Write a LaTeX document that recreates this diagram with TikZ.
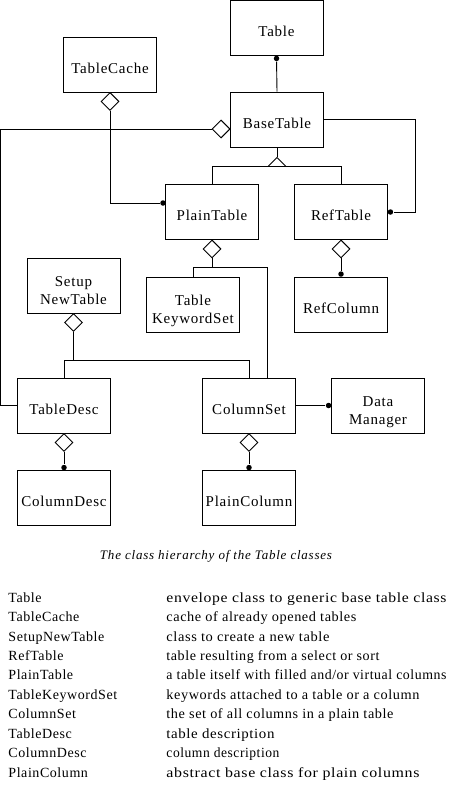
\documentclass[tikz,border=0pt]{standalone}
\usepackage{fontspec}
\usepackage{graphicx}
\setmainfont{Liberation Serif}
\newfontfamily\boxfont{Liberation Serif}[LetterSpace=5]
\newfontfamily\legfont{Liberation Serif}[LetterSpace=4]
\newfontfamily\captfont{Liberation Serif}[LetterSpace=6]
\newcommand{\descw}[2]{\resizebox{#1pt}{\height}{#2}}
\usetikzlibrary{shapes.geometric,calc}
\begin{document}
\begin{tikzpicture}[x=1pt,y=-1pt,line width=0.9pt,
  cls/.style={draw,rectangle,minimum width=93pt,minimum height=55pt,inner sep=0pt,
    font=\boxfont\fontsize{15}{18}\selectfont,text height=17.6pt,text depth=0pt},
  clstwo/.style={cls,align=center,text height=38pt,text depth=0pt},
  agg/.style={draw,diamond,fill=white,minimum width=18pt,minimum height=18pt,inner sep=0pt},
  blob/.style={circle,fill=black,minimum size=5.5pt,inner sep=0pt},
  leg/.style={anchor=base west,inner sep=0pt,font=\legfont\fontsize{14}{16}\selectfont},
  capt/.style={anchor=base,inner sep=0pt,font=\captfont\itshape\fontsize{13}{15}\selectfont}]
\useasboundingbox (0,0) rectangle (449,789);

% classes
\node[cls] (table) at (276.5,28) {Table};
\node[cls] (cache) at (110,64.5) {TableCache};
\node[cls] (base) at (277,119.5) {BaseTable};
\node[cls] (plain) at (212,212) {PlainTable};
\node[cls] (ref) at (341,212) {RefTable};
\node[clstwo] (kw) at (193,304.5) {Table\\KeywordSet};
\node[cls] (refcol) at (341,304.5) {RefColumn};
\node[clstwo] (setup) at (73.5,285.5) {Setup\\NewTable};
\node[cls] (tdesc) at (64,405.5) {TableDesc};
\node[cls] (colset) at (249,405.5) {ColumnSet};
\node[clstwo] (dm) at (378,405.5) {Data\\Manager};
\node[cls] (cdesc) at (64,498) {ColumnDesc};
\node[cls] (pcol) at (249,498) {PlainColumn};

% Table -- BaseTable
\node[blob] (d1) at ($(table.south)+(0,2.5)$) {};
\draw (d1) -- (base.north);

% TableCache -- PlainTable
\node[agg] (a1) at ($(cache.south)+(0,9)$) {};
\node[blob] (d2) at (163,203) {};
\draw (a1.south) |- (d2);

% BaseTable -- TableDesc
\node[agg] (a2) at ($(base.west)+(-9,9.5)$) {};
\coordinate (lft) at (0.5,0);
\draw (a2.west) -- (a2.west -| lft) |- (tdesc.west);

% BaseTable -- RefTable
\node[blob] (d4) at ($(ref.east)+(2.5,0)$) {};
\coordinate (rgt) at (415,0);
\draw (base.east) -- (base.east -| rgt) |- (d4);

% inheritance
\coordinate (apex) at ($(base.south)+(0,10)$);
\coordinate (ib) at ($(apex)+(0,9)$);
\draw (base.south) -- (apex);
\draw[fill=white] (apex) -- ++(-9,9) -- ++(18,0) -- cycle;
\draw (plain.north) -- (plain.north |- ib) -- (ref.north |- ib) -- (ref.north);

% PlainTable -- TableKeywordSet, ColumnSet
\node[agg] (a3) at ($(plain.south)+(0,9)$) {};
\coordinate (c6) at (267,267);
\draw (a3.south) -- (a3.south |- c6);
\draw (kw.north) |- (c6) -- (c6 |- colset.north);

% RefTable -- RefColumn
\node[agg] (a4) at ($(ref.south)+(0,9)$) {};
\node[blob] (d7) at ($(refcol.north)+(0,-2.5)$) {};
\draw (a4.south) -- (d7);

% SetupNewTable -- TableDesc, ColumnSet
\node[agg] (a5) at ($(setup.south)+(0,9)$) {};
\coordinate (j8) at (0,360);
\draw (a5.south) -- (a5.south |- j8);
\draw (tdesc.north) |- (colset.north |- j8) -- (colset.north);

% ColumnSet -- DataManager
\node[blob] (d9) at ($(dm.west)+(-2.5,0)$) {};
\draw (colset.east) -- (d9);

% TableDesc -- ColumnDesc
\node[agg] (a6) at ($(tdesc.south)+(0,9)$) {};
\node[blob] (d10) at ($(cdesc.north)+(0,-2.5)$) {};
\draw (a6.south) -- (d10);

% ColumnSet -- PlainColumn
\node[agg] (a7) at ($(colset.south)+(0,9)$) {};
\node[blob] (d11) at ($(pcol.north)+(0,-2.5)$) {};
\draw (a7.south) -- (d11);

% caption
\node[capt] (cap) at (216,559) {The class hierarchy of the Table classes};

% legend
\node[leg] (n1) at (8,602) {Table};
\node[leg] (t1) at (166,602) {\descw{280}{envelope class to generic base table class}};
\node[leg] (n2) at (8,621.5) {TableCache};
\node[leg] (t2) at (166,621.5) {\descw{190}{cache of already opened tables}};
\node[leg] (n3) at (8,641) {SetupNewTable};
\node[leg] (t3) at (166,641) {\descw{163}{class to create a new table}};
\node[leg] (n4) at (8,660.3) {RefTable};
\node[leg] (t4) at (166,660.3) {\descw{213}{table resulting from a select or sort}};
\node[leg] (n5) at (8,679.8) {PlainTable};
\node[leg] (t5) at (166,679.8) {\descw{280}{a table itself with filled and/or virtual columns}};
\node[leg] (n6) at (8,699.2) {TableKeywordSet};
\node[leg] (t6) at (166,699.2) {\descw{253}{keywords attached to a table or a column}};
\node[leg] (n7) at (8,718.6) {ColumnSet};
\node[leg] (t7) at (166,718.6) {\descw{227}{the set of all columns in a plain table}};
\node[leg] (n8) at (8,738) {TableDesc};
\node[leg] (t8) at (166,738) {\descw{108}{table description}};
\node[leg] (n9) at (8,757.5) {ColumnDesc};
\node[leg] (t9) at (166,757.5) {\descw{113}{column description}};
\node[leg] (n10) at (8,777) {PlainColumn};
\node[leg] (t10) at (166,777) {\descw{253}{abstract base class for plain columns}};
\end{tikzpicture}
\end{document}
